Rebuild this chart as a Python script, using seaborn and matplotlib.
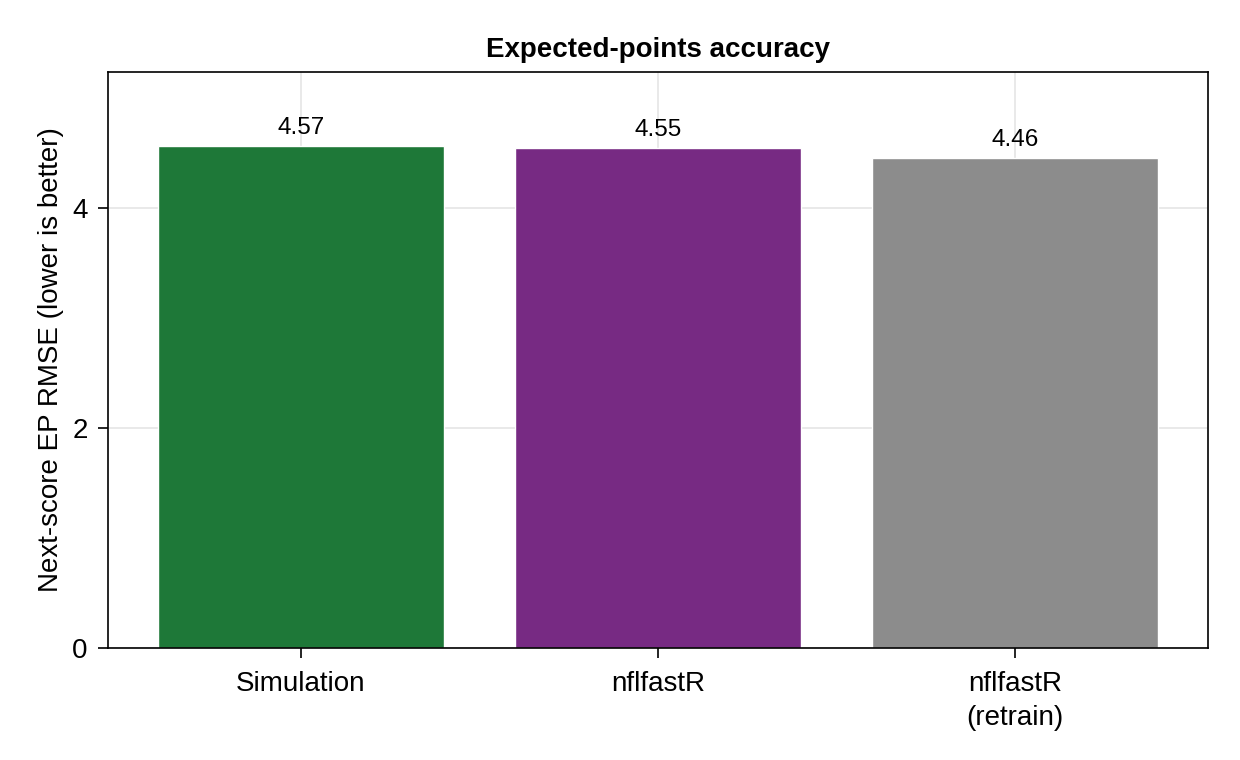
import matplotlib
matplotlib.use('Agg')
import matplotlib.pyplot as plt
import seaborn as sns
import pandas as pd

# values
models = ['Simulation', 'nflfastR', 'nflfastR\n(retrain)']
rmse = [4.57, 4.55, 4.46]
bar_colors = ['#1e7838', '#772a83', '#8c8c8c']

df = pd.DataFrame({'model': models, 'rmse': rmse})

sns.set_style('white')
plt.rcParams['font.family'] = ['Liberation Sans', 'DejaVu Sans']
plt.rcParams['text.color'] = 'black'
plt.rcParams['axes.labelcolor'] = 'black'

fig = plt.figure(figsize=(12.4, 7.6), dpi=100)
ax = fig.add_axes([108 / 1240, 1 - 648 / 760, 1100 / 1240, 576 / 760])

sns.barplot(data=df, x='model', y='rmse', hue='model', palette=bar_colors,
            width=0.8, saturation=1, legend=False, ax=ax, zorder=2)

for i, v in enumerate(rmse):
    ax.text(i, v + 0.06, f'{v:.2f}', ha='center', va='bottom', fontsize=17.5, color='black')

ax.set_xlim(-0.54, 2.54)
ax.set_ylim(0, 5.24)
ax.set_yticks([0, 2, 4])
ax.grid(True, color='#e3e3e3', linewidth=1.1, zorder=0)
ax.set_axisbelow(True)
for s in ax.spines.values():
    s.set_color('black')
    s.set_linewidth(1.2)
ax.tick_params(axis='both', direction='out', length=7.5, width=1.2, labelsize=20,
               bottom=True, left=True, colors='black', labelcolor='black')
ax.tick_params(axis='x', pad=9)
ax.tick_params(axis='y', pad=7)
for lab in ax.get_xticklabels():
    lab.set_linespacing(1.38)
ax.set_xlabel('')
ax.set_ylabel('Next-score EP RMSE (lower is better)', fontsize=20, labelpad=6)
ax.set_title('Expected-points accuracy', fontsize=20, fontweight='bold', pad=11,
             color='black')

fig.savefig('out.png', dpi=100)
